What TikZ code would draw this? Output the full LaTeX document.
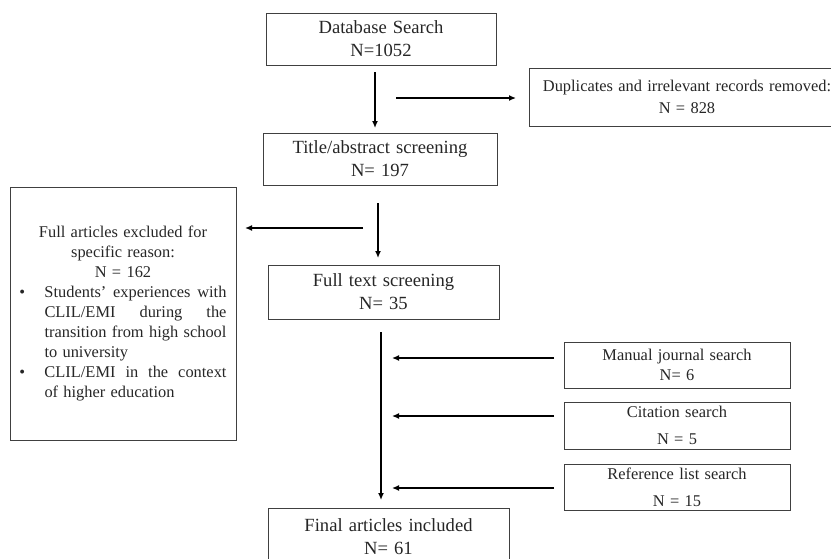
\documentclass[tikz,border=0pt]{standalone}
\usepackage{fontspec}
\setmainfont{Liberation Serif}[WordSpace=1.3]
\usetikzlibrary{arrows.meta}
\begin{document}
\begin{tikzpicture}[x=1pt,y=1pt,
  box/.style={draw=black!75, line width=1pt, inner sep=0pt, outer sep=0pt, align=center, text=black!85},
  big/.style={font=\fontsize{18.6}{23}\selectfont},
  small/.style={font=\fontsize{16.4}{20}\selectfont},
  arr/.style={-{Latex[length=7pt,width=6pt]}, line width=1.3pt}]
\useasboundingbox (0,0) rectangle (831,-558);
\clip (0,0) rectangle (831,-558);
\node[box,big,minimum width=230pt,minimum height=52pt] (db) at (381,-39) {Database Search\\N=1052};
\node[box,small,minimum width=316pt,minimum height=58pt] (dup) at (687,-97) {Duplicates and irrelevant records removed:\\[2pt]N = 828};
\node[box,big,minimum width=234pt,minimum height=52pt] (title) at (380,-159) {Title/abstract screening\\N= 197};
\node[box,big,minimum width=231pt,minimum height=54pt] (full) at (383.5,-292) {Full text screening\\N= 35};
\node[box,small,minimum width=226pt,minimum height=253pt] (excl) at (123,-313.5) {\parbox{207pt}{\centering
  Full articles excluded for\\ specific reason:\\ N = 162\par
  \leftskip=0pt \rightskip=0pt \parfillskip=0pt plus 1fil \parindent=0pt
  \hangindent=25pt \hangafter=1 \makebox[25pt][l]{\textbullet}Students’ experiences with\linebreak CLIL/EMI during the\linebreak transition from high school\linebreak to university\par
  \hangindent=25pt \hangafter=1 \makebox[25pt][l]{\textbullet}CLIL/EMI in the context\linebreak of higher education\par}};
\node[box,small,minimum width=226pt,minimum height=46pt] (man) at (677,-365) {Manual journal search\\N= 6};
\node[box,small,minimum width=226pt,minimum height=47pt] (cit) at (677,-425.5) {Citation search\\[7pt]N = 5};
\node[box,small,minimum width=226pt,minimum height=46pt] (ref) at (677,-487) {Reference list search\\[7pt]N = 15};
\node[box,big,minimum width=241pt,minimum height=58pt] (fin) at (388.5,-537) {Final articles included\\N= 61};
% arrow end points
\coordinate (a1s) at (375,-72);  \coordinate (a1e) at (375,-128);
\coordinate (a2s) at (396,-98);  \coordinate (a2e) at (516,-98);
\coordinate (a3s) at (378,-203); \coordinate (a3e) at (378,-258);
\coordinate (a4s) at (363,-228); \coordinate (a4e) at (245,-228);
\coordinate (a5s) at (381,-332); \coordinate (a5e) at (381,-500);
\coordinate (a6s) at (554,-358); \coordinate (a6e) at (392,-358);
\coordinate (a7s) at (554,-416); \coordinate (a7e) at (392,-416);
\coordinate (a8s) at (554,-488); \coordinate (a8e) at (392,-488);
\draw[arr] (a1s) -- (a1e);
\draw[arr] (a2s) -- (a2e);
\draw[arr] (a3s) -- (a3e);
\draw[arr] (a4s) -- (a4e);
\draw[arr] (a5s) -- (a5e);
\draw[arr] (a6s) -- (a6e);
\draw[arr] (a7s) -- (a7e);
\draw[arr] (a8s) -- (a8e);
\end{tikzpicture}
\end{document}
